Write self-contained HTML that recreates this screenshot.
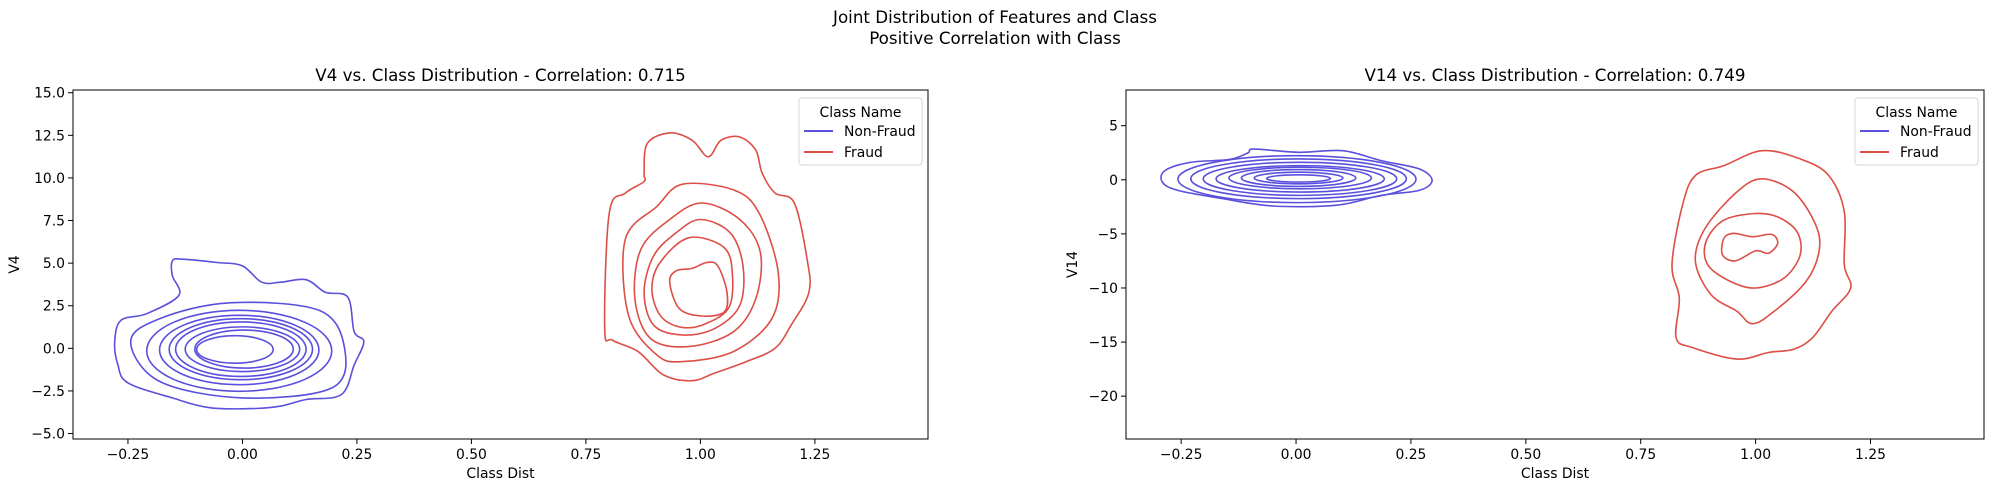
<!DOCTYPE html>
<html><head><meta charset="utf-8">
<style>
html,body{margin:0;padding:0;background:#fff;}
svg{display:block;font-family:"DejaVu Sans","Liberation Sans",sans-serif;}
</style></head>
<body>
<svg id="fig" width="1990" height="495" viewBox="0 0 1990 495" xmlns="http://www.w3.org/2000/svg">
<text x="995" y="23" text-anchor="middle" font-size="16.7">Joint Distribution of Features and Class</text>
<text x="995" y="44" text-anchor="middle" font-size="16.7">Positive Correlation with Class</text>
</svg>
<script>
// ---------- data ----------
const xTicks = [-0.25, 0, 0.25, 0.5, 0.75, 1.0, 1.25];
const xTickLabels = ["\u22120.25","0.00","0.25","0.50","0.75","1.00","1.25"];
const v4Ticks = [-5, -2.5, 0, 2.5, 5, 7.5, 10, 12.5, 15];
const v4TickLabels = ["\u22125.0","\u22122.5","0.0","2.5","5.0","7.5","10.0","12.5","15.0"];
const v14Ticks = [-20, -15, -10, -5, 0, 5];
const v14TickLabels = ["\u221220","\u221215","\u221210","\u22125","0","5"];
const legendLabels = ["Non-Fraud","Fraud"];

const v4BlueOuter = [[-0.153,5.14],[-0.132,5.23],[-0.056,5.04],[0,4.84],[0.042,3.88],[0.084,3.88],[0.139,4.03],[0.181,3.29],[0.23,3.0],[0.244,0.97],[0.265,0.39],[0.244,-0.97],[0.216,-2.71],[0.139,-3.0],[0.084,-3.39],[0.028,-3.53],[-0.07,-3.49],[-0.153,-2.91],[-0.25,-2.03],[-0.272,-0.97],[-0.279,0.39],[-0.265,1.65],[-0.209,2.03],[-0.139,3.1],[-0.153,4.26]];
const v4BlueC2 = [[-0.028,2.67],[0.167,2.23],[0.223,0],[0.195,-2.33],[0,-2.91],[-0.181,-1.94],[-0.244,0.39],[-0.181,1.74]];
const v4BlueInner = [[-0.209,0.195,-2.52,2.23],[-0.181,0.167,-2.13,1.94],[-0.160,0.153,-1.84,1.74],[-0.146,0.139,-1.65,1.55],[-0.125,0.125,-1.36,1.26],[-0.104,0.111,-1.16,1.07],[-0.100,0.067,-0.87,0.74]];
const v4RedOuter = [[0.877,10.27],[0.884,12.02],[0.933,12.64],[0.982,12.21],[1.017,11.24],[1.045,12.21],[1.086,12.40],[1.121,11.63],[1.135,10.27],[1.163,9.11],[1.205,8.53],[1.233,5.23],[1.237,3.29],[1.198,1.36],[1.163,0],[1.100,-0.78],[1.031,-1.45],[0.982,-1.90],[0.919,-1.55],[0.864,-0.19],[0.808,0.48],[0.791,1.16],[0.801,7.95],[0.836,9.11],[0.877,9.79]];
const v4RedC2 = [[0.961,9.63],[1.072,9.30],[1.128,7.95],[1.170,4.46],[1.156,1.74],[1.072,-0.19],[0.961,-0.78],[0.905,-0.39],[0.843,1.94],[0.836,6.40],[0.905,8.33]];
const v4RedC3 = [[1.003,8.53],[1.086,7.56],[1.131,5.62],[1.121,2.91],[1.072,0.97],[0.975,0.10],[0.891,0.58],[0.857,2.91],[0.870,5.81],[0.933,7.56]];
const v4RedC4 = [[1.0,7.56],[1.065,6.78],[1.093,4.84],[1.086,2.52],[1.031,1.16],[0.961,0.78],[0.898,1.36],[0.877,3.29],[0.898,5.43],[0.947,6.78]];
const v4RedC5 = [[0.975,6.49],[1.052,5.91],[1.070,4.26],[1.061,2.33],[1.003,1.36],[0.954,1.26],[0.912,1.94],[0.894,3.49],[0.912,5.04]];
const v4RedC6 = [[1.014,5.04],[1.038,4.84],[1.058,3.29],[1.052,2.13],[1.003,1.90],[0.954,2.33],[0.933,3.88],[0.947,4.55],[0.982,4.69]];

const v14BlueOuter = [[-0.091,2.84],[0.006,2.54],[0.102,2.69],[0.185,1.77],[0.268,1.01],[0.296,-0.06],[0.268,-0.98],[0.185,-1.44],[0.088,-2.35],[-0.050,-2.42],[-0.160,-1.74],[-0.257,-0.98],[-0.291,-0.21],[-0.285,0.86],[-0.229,1.62],[-0.146,1.87],[-0.105,2.48]];
const v14BlueInner = [[-0.257,0.261,-2.11,2.23],[-0.229,0.240,-1.74,1.93],[-0.202,0.219,-1.44,1.62],[-0.174,0.192,-1.13,1.31],[-0.146,0.164,-0.83,1.16],[-0.119,0.130,-0.61,0.95],[-0.091,0.102,-0.37,0.70],[-0.064,0.075,-0.21,0.46]];
const v14RedOuter = [[0.959,-16.57],[0.862,-15.50],[0.827,-14.59],[0.834,-10.92],[0.818,-7.86],[0.841,-2.35],[0.869,0.40],[0.931,1.31],[1.014,2.69],[1.097,1.93],[1.159,0.40],[1.193,-2.97],[1.193,-7.86],[1.207,-10.0],[1.166,-12.14],[1.124,-14.59],[1.083,-15.66],[1.028,-15.96]];
const v14RedC2 = [[1.014,0.09],[1.083,-1.13],[1.131,-4.19],[1.138,-6.64],[1.110,-9.39],[1.041,-12.14],[0.993,-13.30],[0.959,-12.14],[0.903,-10.61],[0.869,-7.55],[0.890,-4.50],[0.959,-1.13]];
const v14RedC3 = [[1.0,-3.12],[1.048,-3.43],[1.090,-4.80],[1.097,-6.94],[1.062,-9.08],[1.0,-10.0],[0.945,-9.39],[0.896,-7.86],[0.892,-5.72],[0.931,-3.73]];
const v14RedC4 = [[0.952,-4.95],[0.993,-5.26],[1.035,-5.05],[1.048,-5.87],[1.028,-6.79],[1.0,-6.57],[0.956,-7.49],[0.928,-6.94],[0.931,-5.41]];

const BLUE = "#5a50dc", RED = "#dc4e46";
const NS = "http://www.w3.org/2000/svg";
const fig = document.getElementById('fig');

function mk(tag, attrs, parent){
  const e = document.createElementNS(NS, tag);
  for (const k in attrs) e.setAttribute(k, attrs[k]);
  (parent||fig).appendChild(e);
  return e;
}
function linScale(d0,d1,r0,r1){ return v => r0 + (v-d0)/(d1-d0)*(r1-r0); }
function closedSpline(pts, sx, sy){
  const p = pts.map(q => [sx(q[0]), sy(q[1])]);
  const n = p.length;
  let d = "M" + p[0][0].toFixed(1) + "," + p[0][1].toFixed(1);
  for (let i=0;i<n;i++){
    const p0=p[(i-1+n)%n], p1=p[i], p2=p[(i+1)%n], p3=p[(i+2)%n];
    const c1=[p1[0]+(p2[0]-p0[0])/6, p1[1]+(p2[1]-p0[1])/6];
    const c2=[p2[0]-(p3[0]-p1[0])/6, p2[1]-(p3[1]-p1[1])/6];
    d += "C"+c1[0].toFixed(1)+","+c1[1].toFixed(1)+" "+c2[0].toFixed(1)+","+c2[1].toFixed(1)+" "+p2[0].toFixed(1)+","+p2[1].toFixed(1);
  }
  return d+"Z";
}

function panel(cfg){
  const {left,right,top,bottom,ylo,yhi,yTicks,yLabels,title,ylabel,blueLines,blueBounds,redLines,key} = cfg;
  const sx = linScale(-0.37, 1.497, left, right);
  const sy = linScale(ylo, yhi, bottom, top);
  const g = mk('g', {});
  
  
  const t = mk('text', {x:(left+right)/2, y:top-9, 'text-anchor':'middle', 'font-size':16.7}, g);
  t.textContent = title;
  
  
  const cg = mk('g', {fill:'none','stroke-width':1.6,'stroke-linejoin':'round'}, g);
  
  
  blueLines.forEach((pts,i) => {
    const e = mk('path', {d:closedSpline(pts,sx,sy), stroke:BLUE}, cg);
    
    
  });
  blueBounds.forEach(b => {
    const e = mk('ellipse', {cx:(sx(b[0])+sx(b[1]))/2, cy:(sy(b[2])+sy(b[3]))/2, rx:Math.abs(sx(b[1])-sx(b[0]))/2, ry:Math.abs(sy(b[2])-sy(b[3]))/2, stroke:BLUE}, cg);
    
    
  });
  redLines.forEach(pts => {
    const e = mk('path', {d:closedSpline(pts,sx,sy), stroke:RED}, cg);
    
    
  });
  const fr = mk('rect', {x:left, y:top, width:right-left, height:bottom-top, fill:'none', stroke:'#000', 'stroke-width':1}, g);
  
  
  xTicks.forEach((v,i) => {
    const x = sx(v);
    mk('line', {x1:x,x2:x,y1:bottom,y2:bottom+5,stroke:'#000'}, g);
    const tl = mk('text', {x:x, y:bottom+20, 'text-anchor':'middle', 'font-size':13.9}, g);
    tl.textContent = xTickLabels[i];
    
    
  });
  yTicks.forEach((v,i) => {
    const y = sy(v);
    mk('line', {x1:left-5,x2:left,y1:y,y2:y,stroke:'#000'}, g);
    const tl = mk('text', {x:left-8, y:y+5, 'text-anchor':'end', 'font-size':13.9}, g);
    tl.textContent = yLabels[i];
    
    
  });
  const xl = mk('text', {x:(left+right)/2, y:bottom+39, 'text-anchor':'middle', 'font-size':13.9}, g);
  xl.textContent = 'Class Dist';
  
  
  const ylx = cfg.ylabelX, yly = (top+bottom)/2;
  const yl = mk('text', {x:ylx, y:yly, 'text-anchor':'middle', 'font-size':13.9, transform:'rotate(-90 '+ylx+' '+yly+')'}, g);
  yl.textContent = ylabel;
  
  
  const lx = right - 129, ly = top + 8;
  const lg = mk('g', {}, g);
  
  
  mk('rect', {x:lx, y:ly, width:123, height:67, rx:3, fill:'#fff', 'fill-opacity':0.8, stroke:'#d6d6d6'}, lg);
  const lt = mk('text', {x:lx+61.5, y:ly+19, 'text-anchor':'middle', 'font-size':13.9}, lg);
  lt.textContent = 'Class Name';
  
  
  [BLUE, RED].forEach((c,i) => {
    const yy = ly + 33 + i*21;
    const ent = mk('g', {}, lg);
    
    
    mk('line', {x1:lx+5, x2:lx+34, y1:yy, y2:yy, stroke:c, 'stroke-width':2}, ent);
    const et = mk('text', {x:lx+45, y:yy+5, 'font-size':13.9}, ent);
    et.textContent = legendLabels[i];
  });
}

panel({key:'v4', left:73, right:928, top:90, bottom:439, ylo:-5.32, yhi:15.16,
  yTicks:v4Ticks, yLabels:v4TickLabels, title:'V4 vs. Class Distribution - Correlation: 0.715', ylabel:'V4', ylabelX:19,
  blueLines:[v4BlueOuter, v4BlueC2], blueBounds:v4BlueInner,
  redLines:[v4RedOuter, v4RedC2, v4RedC3, v4RedC4, v4RedC5, v4RedC6]});
panel({key:'v14', left:1126, right:1984, top:90, bottom:439, ylo:-23.96, yhi:8.3,
  yTicks:v14Ticks, yLabels:v14TickLabels, title:'V14 vs. Class Distribution - Correlation: 0.749', ylabel:'V14', ylabelX:1077,
  blueLines:[v14BlueOuter], blueBounds:v14BlueInner,
  redLines:[v14RedOuter, v14RedC2, v14RedC3, v14RedC4]});
</script>
</body></html>
